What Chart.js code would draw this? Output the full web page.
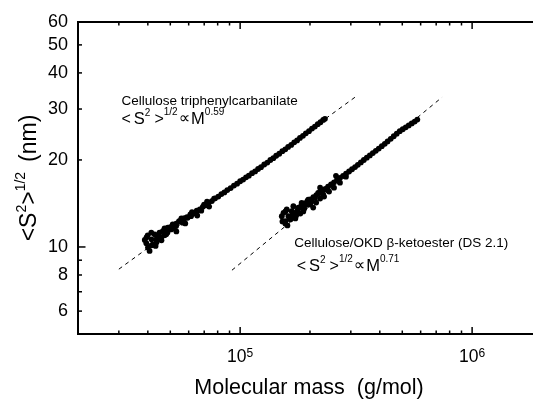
<!DOCTYPE html>
<html><head><meta charset="utf-8">
<script src="https://cdn.jsdelivr.net/npm/chart.js@4.4.1/dist/chart.umd.min.js"></script>
<style>html,body{margin:0;padding:0;background:#fff;overflow:hidden}</style>
</head><body>
<canvas id="c" width="536" height="400"></canvas>
<script>
// Cellulose triphenylcarbanilate: molecular mass (g/mol) and <S2>^1/2 (nm)
const ctpcMass = [38800,39400,40050,40700,42070,41400,42800,43500,44900,45700,46400,48000,48750,50400,51200,52970,54700,56500,59350,61400,64500,43200,44100,39500,47200,41500,57000,62000,68000,72000,
  39940,41500,43600,45800,47200,48600,51600,53100,55800,58000,62800,65300,69900,73500,77200,
  50000,51500,53000,54500,56000,57500,59000,61000,63000,65000,67000,69000,71000,73000,75500,78000,80500,83000,85500,88000,
  91000,94000,97000,100000,103000,106000,109000,112500,116000,119500,123000,127000,131000,135000,139000,143000,147500,152000,156500,161000,
  166000,171000,176000,181000,186500,192000,198000,204000,210000,216000,222000,228000,232000];
const ctpcSize = [10.57,10.30,9.95,9.69,10.21,11.21,11.06,10.63,11.21,10.77,11.35,11.06,11.66,11.50,11.97,11.81,12.28,12.13,12.62,12.78,13.13,10.08,10.88,10.80,11.59,10.63,12.20,13.20,13.35,14.35,
  10.97,10.13,10.38,10.54,10.97,11.23,11.59,11.32,12.55,12.06,13.05,12.85,14.02,13.80,14.70,
  11.70,11.93,12.04,12.26,12.36,12.58,12.69,12.95,13.09,13.35,13.50,13.77,13.93,14.21,14.41,14.73,14.94,15.24,15.44,15.73,
  15.98,16.31,16.55,16.88,17.10,17.42,17.64,18.00,18.25,18.61,18.88,19.29,19.59,19.99,20.28,20.68,21.01,21.44,21.76,22.18,
  22.54,23.01,23.37,23.83,24.23,24.72,25.15,25.67,26.08,26.59,27.00,27.50,27.75];
// Cellulose/OKD beta-ketoester (DS 2.1)
const okdMass = [151200,153800,156300,158800,161500,166800,169600,172500,181200,184100,193400,196600,203100,210000,216900,227900,235400,247300,156500,163100,174400,187200,212700,258900,221200,
  152200,156800,159900,164700,168000,173000,176500,181700,189000,200500,206500,221200,230100,241700,253900,269400,285800,
  178200,183600,189100,194800,200700,206800,213000,219400,226100,232900,239300,246600,254000,261600,269600,277700,286100,294700,303600,312800,
  321600,331400,341400,351600,362300,373200,384400,395900,407900,420200,432000,445800,459400,473200,487500,502200,517400,532900,549000,565500,580500];
const okdSize = [12.78,13.13,12.28,13.48,12.78,13.30,13.83,13.13,13.66,14.21,14.02,14.58,14.39,14.78,15.38,15.17,15.79,16.43,12.06,12.55,12.85,13.27,14.24,17.63,16.04,
  12.26,13.27,11.87,12.45,12.85,12.55,13.37,13.05,13.58,14.02,13.69,14.70,14.94,15.54,16.04,16.69,17.50,
  13.69,13.92,14.16,14.39,14.62,14.86,15.12,15.37,15.63,15.89,16.16,16.45,16.74,17.05,17.34,17.63,17.93,18.24,18.57,18.90,
  19.24,19.61,19.99,20.37,20.74,21.12,21.50,21.89,22.31,22.74,23.17,23.66,24.15,24.66,25.14,25.54,25.94,26.33,26.74,27.15,27.58];
// dashed power-law guide lines
const fit1Mass = [30000, 321600];
const fit1Size = [8.38, 33.5];
const fit2Mass = [92200, 742000];
const fit2Size = [8.31, 32.95];
// axes
const xMin = 20000, xMax = 1812000, yMin = 5, yMax = 60;
const yLabelTicks = [6, 8, 10, 20, 30, 40, 50, 60];
const yMinorTicks = [6, 7, 8, 9, 20, 30, 40, 50];
const yMajorTicks = [10];
const xMajorTicks = [1e5, 1e6];
const xMinorTicks = [3e4,4e4,5e4,6e4,7e4,8e4,9e4,2e5,3e5,4e5,5e5,6e5,7e5,8e5,9e5];
const xTickBases = ['10', '10'];
const xTickExps = ['5', '6'];
const xLabel = 'Molecular mass  (g/mol)';
// annotation anchors (data coordinates)
const ann1Anchor = {x: 30800, y: 32.0};
const ann2Anchor = {x: 170900, y: 10.3};

const FONT = '"Liberation Sans", Arial, "DejaVu Sans", sans-serif';
const SYM = '"DejaVu Sans", sans-serif';
const pts = (xs, ys) => xs.map((v, i) => ({x: v, y: ys[i]}));

function drawRich(ctx, x, y, parts) {
  let cx = x;
  for (const p of parts) {
    ctx.font = p.size + 'px ' + (p.fam || FONT);
    ctx.fillText(p.t, cx, y - (p.dy || 0));
    cx += ctx.measureText(p.t).width + (p.gap || 0);
  }
  return cx - x;
}
function richWidth(ctx, parts) {
  let w = 0;
  for (const p of parts) { ctx.font = p.size + 'px ' + (p.fam || FONT); w += ctx.measureText(p.t).width + (p.gap || 0); }
  return w;
}

const decor = {
  id: 'decor',
  afterDraw(chart) {
    const {ctx, chartArea: a, scales: {x, y}} = chart;
    ctx.save();
    ctx.strokeStyle = '#000'; ctx.fillStyle = '#000'; ctx.lineWidth = 1.5;
    const line = (x1, y1, x2, y2) => { ctx.beginPath(); ctx.moveTo(x1, y1); ctx.lineTo(x2, y2); ctx.stroke(); };
    const xt = (v, len) => { const p = x.getPixelForValue(v); line(p, a.bottom, p, a.bottom - len); line(p, a.top, p, a.top + len); };
    const yt = (v, len) => { const p = y.getPixelForValue(v); line(a.left, p, a.left + len, p); };
    xMinorTicks.forEach(v => xt(v, 3.5));
    xMajorTicks.forEach(v => xt(v, 7));
    yMinorTicks.forEach(v => yt(v, 4));
    yMajorTicks.forEach(v => yt(v, 7.5));

    // x tick labels with superscripts
    ctx.textBaseline = 'alphabetic'; ctx.textAlign = 'left';
    xMajorTicks.forEach((v, i) => {
      const parts = [{t: xTickBases[i], size: 17.5}, {t: xTickExps[i], size: 12, dy: 5}];
      const w = richWidth(ctx, parts);
      drawRich(ctx, x.getPixelForValue(v) - w / 2, a.bottom + 28, parts);
    });

    // x title
    ctx.font = '21.5px ' + FONT; ctx.textAlign = 'center'; ctx.textBaseline = 'middle';
    ctx.fillText(xLabel, (a.left + a.right) / 2 + 4, a.bottom + 54);
    ctx.textAlign = 'left'; ctx.textBaseline = 'alphabetic';

    // y title rotated
    ctx.save();
    ctx.translate(a.left - 50, (a.top + a.bottom) / 2);
    ctx.rotate(-Math.PI / 2);
    const yt1 = [{t: '<S', size: 23}, {t: '2', size: 14, dy: 10}, {t: '>', size: 23}, {t: '1/2', size: 14, dy: 11, gap: 10}, {t: '(nm)', size: 23}];
    const wy = richWidth(ctx, yt1);
    drawRich(ctx, -wy / 2, 8, yt1);
    ctx.restore();

    // annotations
    const a1x = x.getPixelForValue(ann1Anchor.x), a1y = y.getPixelForValue(ann1Anchor.y);
    ctx.font = '13.5px ' + FONT; ctx.textBaseline = 'middle';
    ctx.fillText('Cellulose triphenylcarbanilate', a1x, a1y);
    ctx.textBaseline = 'alphabetic';
    const l2 = (m) => [{t: '<', size: 16, gap: 3}, {t: 'S', size: 16.5}, {t: '2', size: 10, dy: 8, gap: 4}, {t: '>', size: 16},
      {t: '1/2', size: 10, dy: 9, gap: 1}, {t: '\u221D', size: 16, fam: SYM, dy: 1, gap: 1}, {t: 'M', size: 16.5}, {t: m, size: 10, dy: 9}];
    drawRich(ctx, a1x, a1y + 23.5, l2('0.59'));
    const a2x = x.getPixelForValue(ann2Anchor.x), a2y = y.getPixelForValue(ann2Anchor.y);
    ctx.font = '13.5px ' + FONT; ctx.textBaseline = 'middle';
    ctx.fillText('Cellulose/OKD \u03B2-ketoester (DS 2.1)', a2x, a2y);
    ctx.textBaseline = 'alphabetic';
    drawRich(ctx, a2x + 2.5, a2y + 28, l2('0.71'));
    ctx.restore();
  }
};

new Chart(document.getElementById('c'), {
  type: 'scatter',
  data: {
    datasets: [
      {data: pts(ctpcMass, ctpcSize), pointRadius: 2.9, pointBackgroundColor: '#000', pointBorderWidth: 0, showLine: false},
      {data: pts(okdMass, okdSize), pointRadius: 2.9, pointBackgroundColor: '#000', pointBorderWidth: 0, showLine: false},
      {data: pts(fit1Mass, fit1Size), showLine: true, borderColor: '#000', borderWidth: 1, borderDash: [4, 4], pointRadius: 0, fill: false},
      {data: pts(fit2Mass, fit2Size), showLine: true, borderColor: '#000', borderWidth: 1, borderDash: [4, 4], pointRadius: 0, fill: false}
    ]
  },
  options: {
    responsive: false, animation: false, devicePixelRatio: 1,
    layout: {padding: 0},
    plugins: {legend: {display: false}, tooltip: {enabled: false}},
    scales: {
      x: {
        type: 'logarithmic', position: 'bottom', min: xMin, max: xMax,
        grid: {display: false, drawTicks: false},
        border: {display: true, color: '#000', width: 2},
        ticks: {display: false},
        title: {display: false, text: xLabel},
        afterFit: s => { s.height = 66; }
      },
      x2: {
        type: 'logarithmic', axis: 'x', position: 'top', min: xMin, max: xMax,
        grid: {display: false, drawTicks: false},
        border: {display: true, color: '#000', width: 2},
        ticks: {display: false},
        afterFit: s => { s.height = 22; }
      },
      y: {
        type: 'logarithmic', position: 'left', min: yMin, max: yMax,
        grid: {display: false, drawTicks: false},
        border: {display: true, color: '#000', width: 2},
        afterBuildTicks: s => { s.ticks = yLabelTicks.map(v => ({value: v})); },
        ticks: {color: '#000', font: {family: FONT, size: 18}, padding: 10, autoSkip: false, callback: v => String(v)},
        afterFit: s => { s.width = 78; }
      }
    }
  },
  plugins: [decor]
});
</script>
</body></html>
